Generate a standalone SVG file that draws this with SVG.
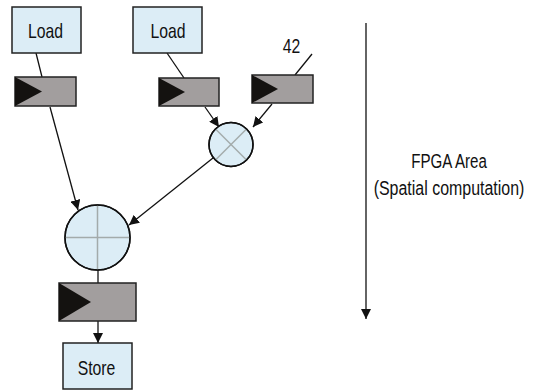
<svg xmlns="http://www.w3.org/2000/svg" width="534" height="391" viewBox="0 0 534 391">
<defs>
<style>
.box{fill:#dcedf6;stroke:#222;stroke-width:1.5}
.reg{fill:#a29e9e;stroke:#222;stroke-width:1.5}
.tri{fill:#141210}
.op{fill:#dcedf6;stroke:#111;stroke-width:1.5}
.x{stroke:#a3abab;stroke-width:1.5}
.c{stroke:#111;stroke-width:1.3;fill:none}
.t{font-family:"Liberation Sans",Arial,sans-serif;font-size:21px;fill:#111;text-anchor:middle}
</style>
<marker id="ah" viewBox="0 0 10 10" refX="10" refY="5" markerWidth="10" markerHeight="10" markerUnits="userSpaceOnUse" orient="auto">
<path d="M0,0 L10,5 L0,10 z" fill="#111"/>
</marker>
</defs>
<g id="connectors">
<line class="c" x1="36" y1="53" x2="42" y2="77"/>
<line class="c" x1="167" y1="53" x2="184" y2="78"/>
<line class="c" x1="312" y1="54" x2="295" y2="75"/>
<line class="c" x1="50" y1="107" x2="78" y2="210" marker-end="url(#ah)"/>
<line class="c" x1="205" y1="107" x2="219" y2="127" marker-end="url(#ah)"/>
<line class="c" x1="272" y1="104" x2="253" y2="127" marker-end="url(#ah)"/>
<line class="c" x1="213" y1="158" x2="129" y2="225" marker-end="url(#ah)"/>
<line class="c" x1="98" y1="270" x2="98" y2="283"/>
<line class="c" x1="98" y1="321" x2="98" y2="343" marker-end="url(#ah)"/>
<line class="c" x1="366" y1="23" x2="366" y2="319" marker-end="url(#ah)"/>
</g>
<g id="load1">
<rect class="box" x="12" y="7" width="69" height="46"/>
<text class="t" transform="translate(45.5,38) scale(0.75,1)">Load</text>
</g>
<g id="load2">
<rect class="box" x="133" y="7" width="69" height="46"/>
<text class="t" transform="translate(168,38) scale(0.75,1)">Load</text>
</g>
<g id="const42">
<text class="t" transform="translate(291.5,53) scale(0.75,1)">42</text>
</g>
<g id="reg1">
<rect class="reg" x="15" y="77" width="61" height="29"/>
<path class="tri" d="M15,77 L42,91.5 L15,106 z"/>
</g>
<g id="reg2">
<rect class="reg" x="159" y="78" width="60" height="28"/>
<path class="tri" d="M159,78 L185,92 L159,106 z"/>
</g>
<g id="reg3">
<rect class="reg" x="252" y="75" width="61" height="28"/>
<path class="tri" d="M252,75 L278,89 L252,103 z"/>
</g>
<g id="mul">
<circle class="op" cx="231" cy="144.5" r="22"/>
<line class="x" x1="215.5" y1="129" x2="246.5" y2="160"/>
<line class="x" x1="246.5" y1="129" x2="215.5" y2="160"/>
<circle cx="231" cy="144.5" r="22" fill="none" stroke="#111" stroke-width="1.5"/>
</g>
<g id="add">
<circle class="op" cx="97.5" cy="237.5" r="32.5"/>
<line class="x" x1="65" y1="237.5" x2="130" y2="237.5"/>
<line class="x" x1="97.5" y1="205" x2="97.5" y2="270"/>
<circle cx="97.5" cy="237.5" r="32.5" fill="none" stroke="#111" stroke-width="1.5"/>
</g>
<g id="reg4">
<rect class="reg" x="59" y="283" width="77" height="38"/>
<path class="tri" d="M59,283 L91,302 L59,321 z"/>
</g>
<g id="store">
<rect class="box" x="63" y="343" width="69" height="46"/>
<text class="t" transform="translate(96.5,375) scale(0.75,1)">Store</text>
</g>
<g id="area-label">
<text class="t" transform="translate(449,168) scale(0.72,1)">FPGA Area</text>
<text class="t" transform="translate(449,195) scale(0.76,1)">(Spatial computation)</text>
</g>
</svg>
